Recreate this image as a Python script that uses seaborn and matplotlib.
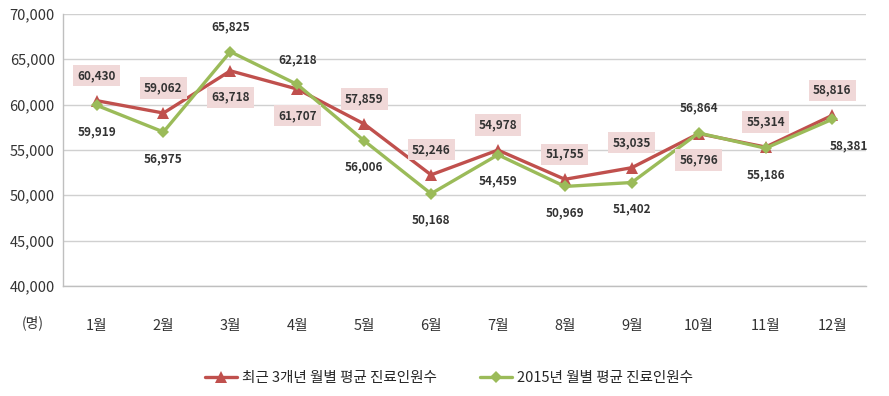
import matplotlib
matplotlib.use("Agg")
import matplotlib.pyplot as plt
import seaborn as sns
import pandas as pd

months = ["1월", "2월", "3월", "4월", "5월", "6월", "7월", "8월", "9월", "10월", "11월", "12월"]
avg3y = [60430, 59062, 63718, 61707, 57859, 52246, 54978, 51755, 53035, 56796, 55314, 58816]
y2015 = [59919, 56975, 65825, 62218, 56006, 50168, 54459, 50969, 51402, 56864, 55186, 58381]
name_avg = "최근 3개년 월별 평균 진료인원수"
name_2015 = "2015년 월별 평균 진료인원수"
# label placement: +1 above, -1 below
pos_avg = [1, 1, -1, -1, 1, 1, 1, 1, 1, -1, 1, 1]
pos_2015 = [-1, -1, 1, 1, -1, -1, -1, -1, -1, 1, -1, -1]

sns.set_theme(style="white")
plt.rcParams['font.family'] = ['Noto Sans CJK KR', 'DejaVu Sans']

RED = "#c0504d"
GREEN = "#9bbb59"

fig = plt.figure(figsize=(8.89, 3.96), dpi=100)
ax = fig.add_axes([0.071, 0.278, 0.903, 0.687])

df = pd.DataFrame({"월": months * 2,
                   "값": avg3y + y2015,
                   "계열": [name_avg] * 12 + [name_2015] * 12})

sns.lineplot(data=df, x="월", y="값", hue="계열", style="계열",
             palette={name_avg: RED, name_2015: GREEN},
             markers={name_avg: "^", name_2015: "D"},
             dashes=False, sort=False, linewidth=2.4, markersize=8,
             markeredgewidth=0, ax=ax)
for ln in ax.lines:
    if ln.get_marker() == "D":
        ln.set_markersize(6.5)

def off(p):
    return 18 * p if p > 0 else 19 * p

for i, (v, p) in enumerate(zip(avg3y, pos_avg)):
    ax.annotate(f"{v:,}", (i, v), xytext=(0, off(p)), textcoords="offset points",
                ha="center", va="center", fontsize=8.5, color="#333333",
                fontweight="bold",
                bbox=dict(boxstyle="square,pad=0.35", fc="#f0d8d8", ec="none"))
for i, (v, p) in enumerate(zip(y2015, pos_2015)):
    dx = 12 if i == 11 else 0
    ax.annotate(f"{v:,}", (i, v), xytext=(dx, off(p)), textcoords="offset points",
                ha="center", va="center", fontsize=8.5, color="#333333",
                fontweight="bold")

ax.set_ylim(40000, 70000)
ax.set_xlim(-0.5, 11.5)
ax.set_yticks(range(40000, 70001, 5000))
ax.set_yticklabels([f"{t:,}" for t in range(40000, 70001, 5000)],
                   fontsize=10.5, color="#333333")
ax.set_xticks(range(12))
ax.set_xticklabels(months, fontsize=10.5, color="#333333")
ax.set_xticks([k - 0.5 for k in range(13)], minor=True)
ax.tick_params(axis="x", which="major", length=0, pad=24)
ax.tick_params(axis="x", which="minor", length=4, color="#bfbfbf", direction="out")
ax.tick_params(axis="y", length=0, pad=6)
ax.set_xlabel("")
ax.set_ylabel("")
ax.grid(axis="y", color="#d0d0d0", linewidth=1)
ax.grid(axis="x", visible=False)
for s in ["top", "right"]:
    ax.spines[s].set_visible(False)
for s in ["left", "bottom"]:
    ax.spines[s].set_color("#bfbfbf")
    ax.spines[s].set_linewidth(1)

fig.text(0.025, 0.185, "(명)", fontsize=10, color="#333333", ha="left", va="center")

ax.get_legend().remove()
handles, labels = ax.get_legend_handles_labels()
fig.legend(handles, labels, loc="center", bbox_to_anchor=(0.505, 0.045), ncol=2,
           frameon=False, fontsize=10.5, handlelength=2.2, columnspacing=3,
           handletextpad=0.3)

fig.savefig("out.png", dpi=100)
